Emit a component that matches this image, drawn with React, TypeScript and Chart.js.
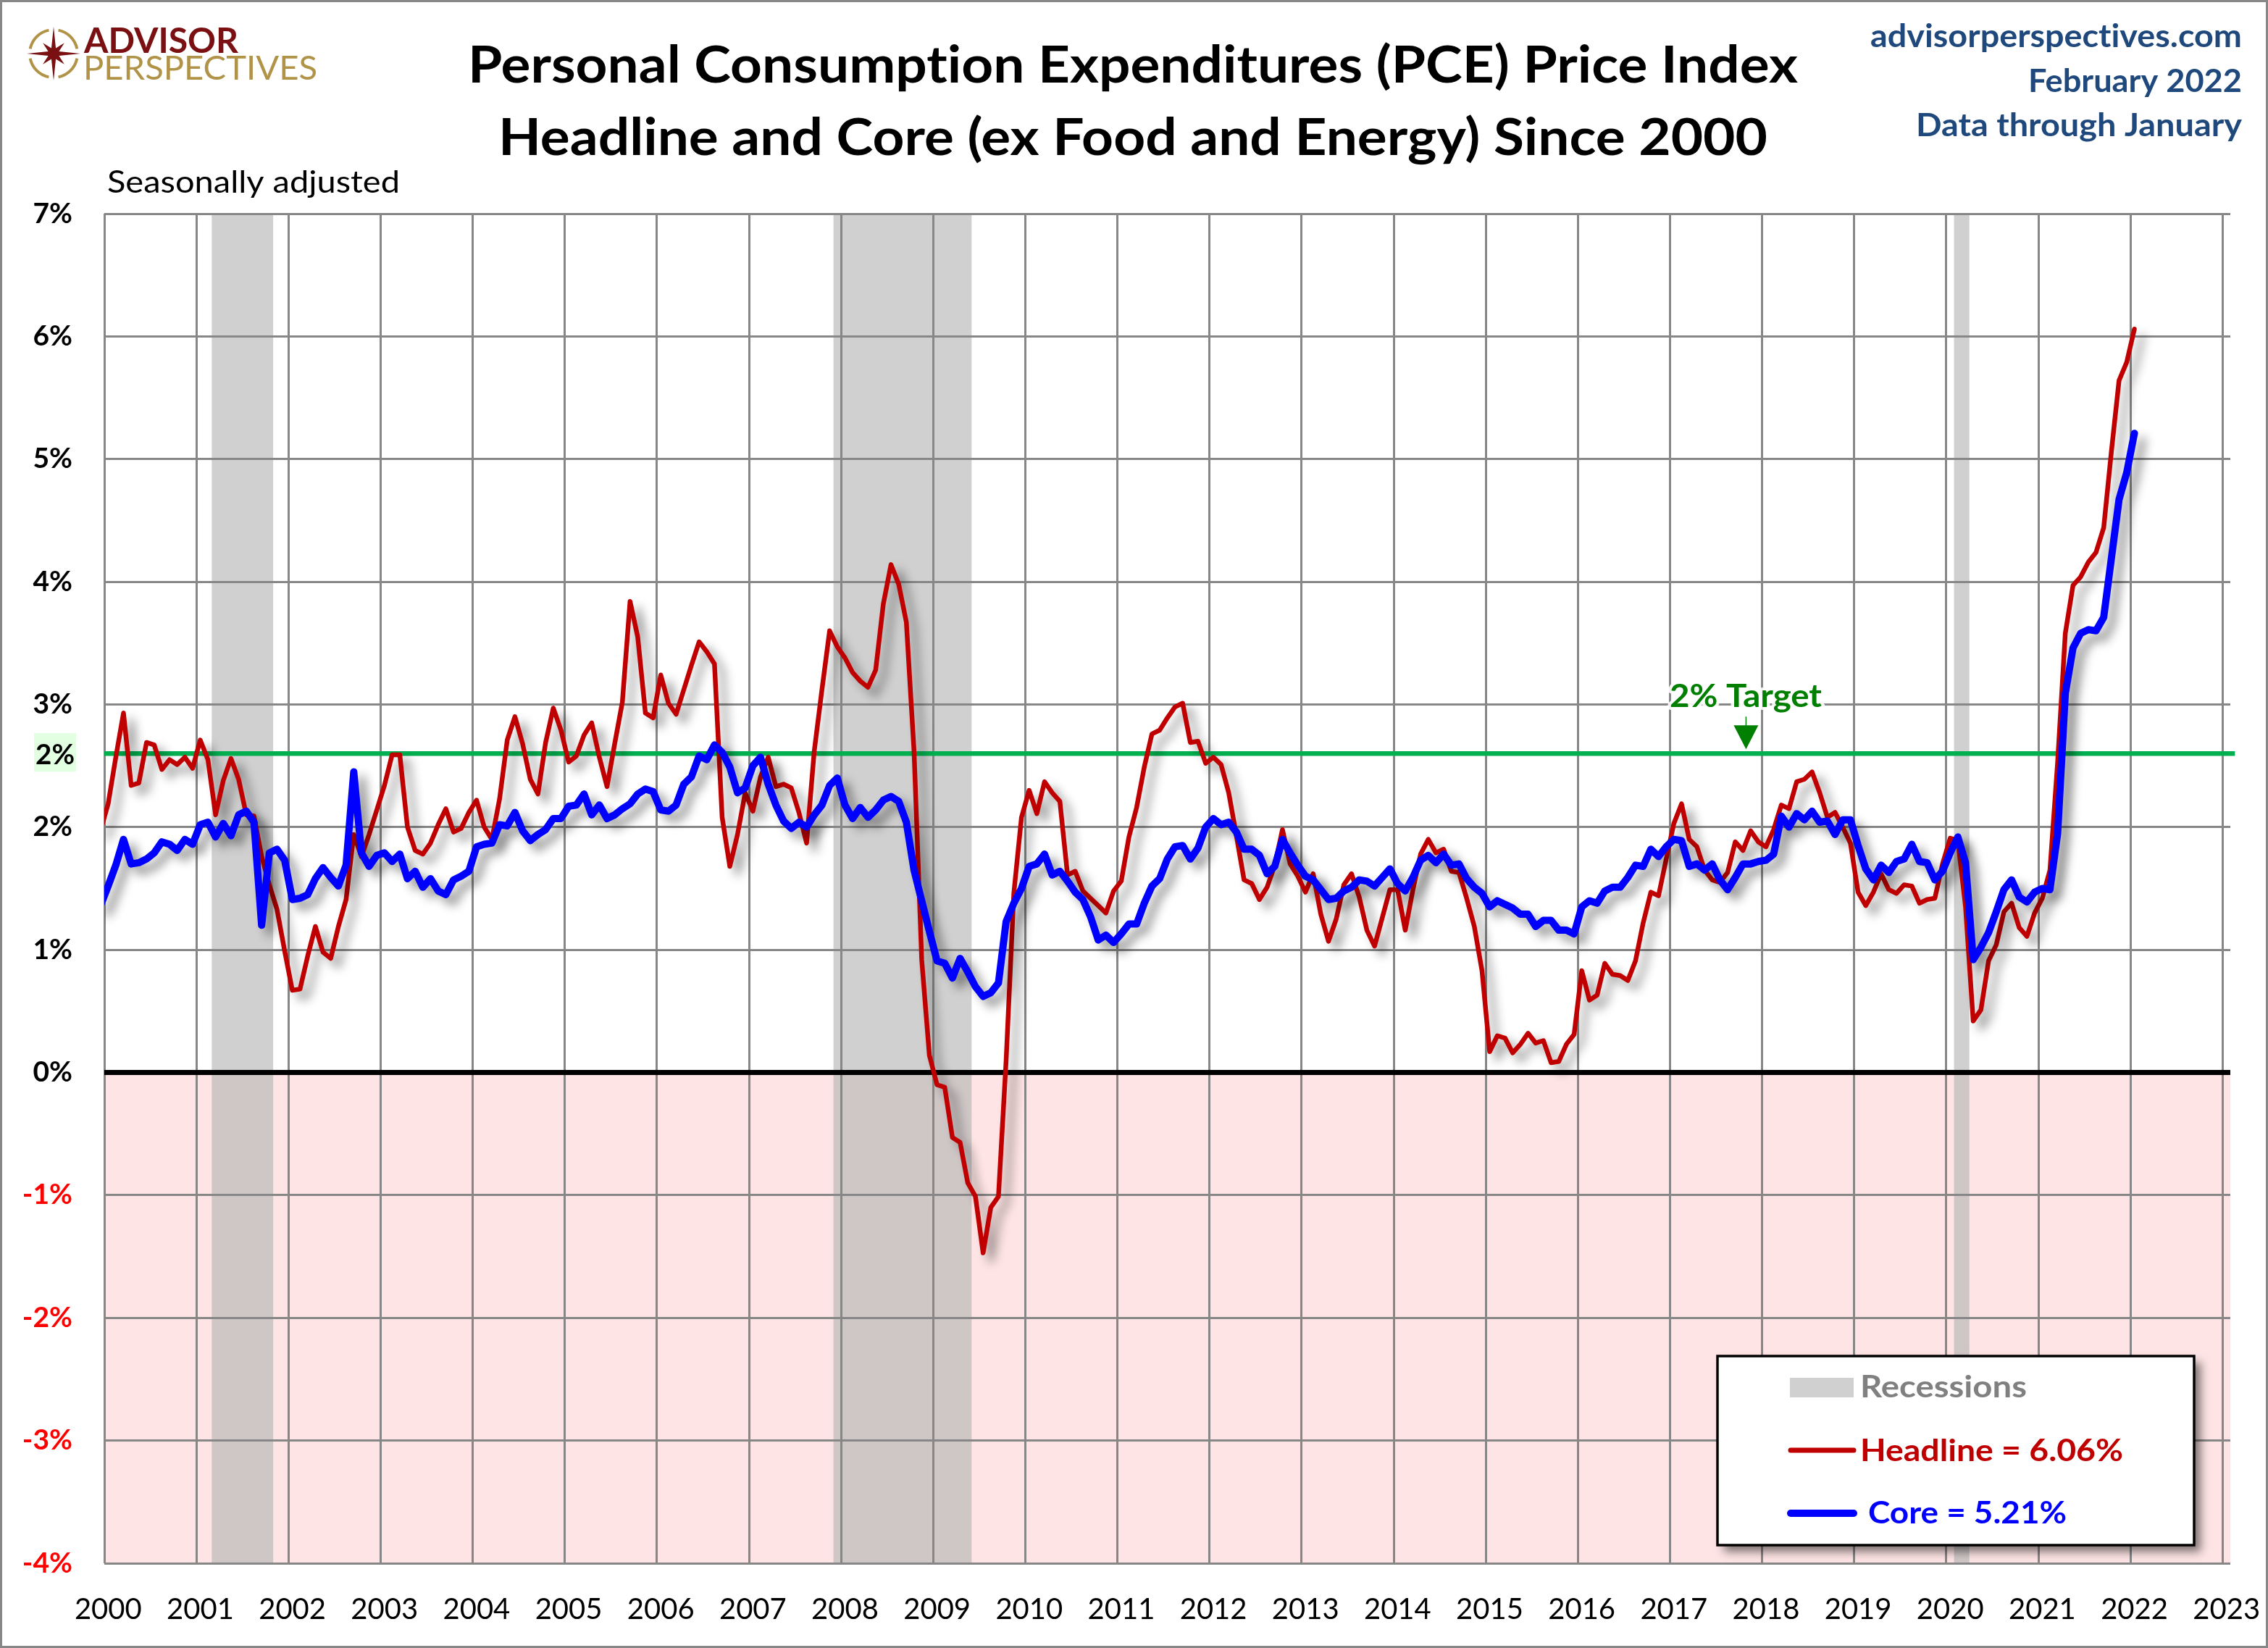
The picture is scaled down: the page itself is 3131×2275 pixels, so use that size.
import React, { useEffect, useRef } from "react";
import { Chart, registerables } from "chart.js";

Chart.register(...registerables);

const FONT = "Lato";

const yearLabels = [
  "2000", "2001", "2002", "2003", "2004", "2005", "2006", "2007", "2008", "2009", "2010", "2011",
  "2012", "2013", "2014", "2015", "2016", "2017", "2018", "2019", "2020", "2021", "2022", "2023",
];

// months since Jan 2000, first entry of each series is Dec 1999 (clipped by the axis)
const headline = [
  1.97,
  2.19, 2.57, 2.93, 2.34, 2.36, 2.69, 2.67, 2.47, 2.55, 2.51, 2.57, 2.48,
  2.71, 2.55, 2.10, 2.38, 2.56, 2.39, 2.10, 2.09, 1.76, 1.53, 1.33, 0.99,
  0.67, 0.68, 0.95, 1.19, 0.98, 0.93, 1.19, 1.41, 1.94, 1.76, 1.94, 2.14,
  2.34, 2.59, 2.59, 2.0, 1.81, 1.78, 1.87, 2.02, 2.15, 1.96, 1.99, 2.12,
  2.22, 2.0, 1.90, 2.23, 2.71, 2.90, 2.68, 2.39, 2.27, 2.69, 2.97, 2.79,
  2.53, 2.58, 2.75, 2.85, 2.57, 2.33, 2.68, 3.02, 3.84, 3.55, 2.93, 2.89,
  3.24, 3.01, 2.92, 3.12, 3.32, 3.51, 3.43, 3.33, 2.08, 1.68, 1.94, 2.28,
  2.13, 2.41, 2.57, 2.33, 2.35, 2.32, 2.12, 1.87, 2.62, 3.12, 3.60, 3.47,
  3.38, 3.26, 3.19, 3.14, 3.28, 3.82, 4.14, 3.98, 3.67, 2.62, 0.92, 0.14,
  -0.10, -0.12, -0.53, -0.57, -0.90, -1.01, -1.47, -1.10, -1.01, 0.10, 1.46, 2.08,
  2.30, 2.11, 2.37, 2.28, 2.21, 1.61, 1.64, 1.48, 1.42, 1.36, 1.30, 1.48,
  1.56, 1.92, 2.16, 2.49, 2.76, 2.79, 2.89, 2.98, 3.01, 2.69, 2.70, 2.52,
  2.57, 2.51, 2.28, 1.93, 1.57, 1.54, 1.41, 1.51, 1.69, 1.98, 1.70, 1.60,
  1.47, 1.62, 1.29, 1.07, 1.25, 1.53, 1.62, 1.43, 1.16, 1.03, 1.26, 1.49,
  1.49, 1.16, 1.49, 1.78, 1.90, 1.79, 1.82, 1.64, 1.63, 1.42, 1.19, 0.83,
  0.17, 0.30, 0.28, 0.16, 0.23, 0.32, 0.24, 0.26, 0.08, 0.09, 0.23, 0.31,
  0.83, 0.59, 0.63, 0.89, 0.80, 0.79, 0.75, 0.91, 1.22, 1.47, 1.44, 1.74,
  2.03, 2.19, 1.90, 1.84, 1.65, 1.57, 1.55, 1.63, 1.88, 1.81, 1.97, 1.88,
  1.84, 1.98, 2.18, 2.15, 2.37, 2.39, 2.45, 2.28, 2.08, 2.12, 2.0, 1.87,
  1.47, 1.36, 1.47, 1.62, 1.49, 1.46, 1.53, 1.52, 1.38, 1.41, 1.42, 1.70,
  1.91, 1.89, 1.35, 0.42, 0.51, 0.91, 1.04, 1.31, 1.38, 1.18, 1.11, 1.30,
  1.42, 1.65, 2.53, 3.58, 3.97, 4.04, 4.16, 4.24, 4.44, 5.06, 5.64, 5.79,
  6.06,
];

const core = [
  1.36,
  1.52, 1.69, 1.90, 1.70, 1.71, 1.74, 1.79, 1.88, 1.86, 1.81, 1.90, 1.86,
  2.02, 2.04, 1.92, 2.03, 1.93, 2.10, 2.13, 2.04, 1.20, 1.79, 1.82, 1.73,
  1.41, 1.42, 1.45, 1.58, 1.67, 1.59, 1.52, 1.69, 2.45, 1.79, 1.68, 1.77,
  1.79, 1.72, 1.78, 1.58, 1.64, 1.51, 1.58, 1.48, 1.45, 1.57, 1.60, 1.64,
  1.84, 1.86, 1.87, 2.02, 2.01, 2.12, 1.97, 1.89, 1.94, 1.98, 2.07, 2.07,
  2.17, 2.18, 2.27, 2.10, 2.18, 2.07, 2.10, 2.15, 2.19, 2.27, 2.31, 2.29,
  2.14, 2.13, 2.18, 2.35, 2.41, 2.58, 2.55, 2.67, 2.61, 2.49, 2.28, 2.32,
  2.50, 2.57, 2.35, 2.18, 2.05, 1.99, 2.04, 2.0, 2.10, 2.18, 2.34, 2.40,
  2.18, 2.07, 2.16, 2.08, 2.14, 2.22, 2.25, 2.21, 2.04, 1.65, 1.40, 1.15,
  0.91, 0.89, 0.77, 0.93, 0.82, 0.70, 0.62, 0.65, 0.73, 1.23, 1.38, 1.50,
  1.68, 1.70, 1.78, 1.61, 1.64, 1.56, 1.47, 1.41, 1.27, 1.08, 1.12, 1.06,
  1.13, 1.21, 1.21, 1.38, 1.52, 1.58, 1.74, 1.84, 1.85, 1.74, 1.83, 2.0,
  2.07, 2.02, 2.04, 1.96, 1.82, 1.82, 1.77, 1.62, 1.68, 1.90, 1.79, 1.69,
  1.60, 1.57, 1.49, 1.41, 1.42, 1.48, 1.51, 1.57, 1.56, 1.52, 1.59, 1.66,
  1.54, 1.48, 1.59, 1.73, 1.77, 1.71, 1.78, 1.69, 1.70, 1.58, 1.51, 1.46,
  1.35, 1.40, 1.37, 1.34, 1.29, 1.29, 1.19, 1.24, 1.24, 1.16, 1.16, 1.13,
  1.35, 1.40, 1.38, 1.48, 1.51, 1.51, 1.59, 1.69, 1.68, 1.82, 1.76, 1.84,
  1.90, 1.89, 1.68, 1.70, 1.65, 1.70, 1.57, 1.49, 1.59, 1.70, 1.70, 1.72,
  1.73, 1.78, 2.09, 2.00, 2.11, 2.06, 2.13, 2.04, 2.05, 1.94, 2.06, 2.06,
  1.85, 1.66, 1.57, 1.69, 1.63, 1.72, 1.74, 1.86, 1.72, 1.71, 1.57, 1.64,
  1.79, 1.92, 1.71, 0.92, 1.02, 1.14, 1.31, 1.49, 1.57, 1.43, 1.39, 1.47,
  1.50, 1.49, 1.95, 3.09, 3.46, 3.58, 3.61, 3.60, 3.71, 4.19, 4.67, 4.89,
  5.21,
];

// recession bands, in months since Jan 2000
const recessionStarts = [14, 95, 241];
const recessionEnds = [22, 113, 243];

// the green line sits at 2.6 on the value axis in the source
const targetLevel = 2.6;
const targetArrowMonth = 213.9;
const axisEndMonth = 277;

const titleLines = [
  "Personal Consumption Expenditures (PCE) Price Index",
  "Headline and Core (ex Food and Energy) Since 2000",
];
const sourceLines = ["advisorperspectives.com", "February 2022", "Data through January"];

// squeeze a text into the x range it has in the source
function fitText(
  ctx: CanvasRenderingContext2D,
  text: string,
  x0: number,
  x1: number,
  baseline: number,
  font: string,
  color: string,
  halo = 0
) {
  ctx.save();
  ctx.font = font;
  ctx.textAlign = "left";
  ctx.textBaseline = "alphabetic";
  (ctx as any).textRendering = "optimizeSpeed"; // no "ti" ligature from Lato
  const sx = (x1 - x0) / ctx.measureText(text).width;
  ctx.translate(x0, baseline);
  ctx.scale(sx, 1);
  if (halo) {
    ctx.strokeStyle = "rgba(255,255,255,0.9)";
    ctx.lineWidth = halo;
    ctx.lineJoin = "round";
    ctx.strokeText(text, 0, 0);
  }
  ctx.fillStyle = color;
  ctx.fillText(text, 0, 0);
  ctx.restore();
}

function drawLogo(ctx: CanvasRenderingContext2D) {
  const cx = 74;
  const cy = 74;
  ctx.save();
  ctx.strokeStyle = "#b09347";
  ctx.lineWidth = 4;
  for (let q = 0; q < 4; q++) {
    const a = (q * Math.PI) / 2;
    ctx.beginPath();
    ctx.arc(cx, cy, 33, a + 0.2, a + Math.PI / 2 - 0.2);
    ctx.stroke();
  }
  ctx.fillStyle = "#7a1012";
  ctx.beginPath();
  for (let k = 0; k < 16; k++) {
    const r = k % 4 === 0 ? 37 : k % 4 === 2 ? 21 : 8;
    const a = (k * Math.PI) / 8 - Math.PI / 2;
    const px = cx + r * Math.cos(a);
    const py = cy + r * Math.sin(a);
    if (k === 0) ctx.moveTo(px, py);
    else ctx.lineTo(px, py);
  }
  ctx.closePath();
  ctx.fill();
  ctx.restore();
  fitText(ctx, "ADVISOR", 116, 329, 73, `bold 48px ${FONT}`, "#7a1012");
  fitText(ctx, "PERSPECTIVES", 115, 438, 110, `46px ${FONT}`, "#b09347");
}

function drawLegend(ctx: CanvasRenderingContext2D) {
  ctx.save();
  ctx.shadowColor = "rgba(0,0,0,0.5)";
  ctx.shadowBlur = 12;
  ctx.shadowOffsetX = 9;
  ctx.shadowOffsetY = 9;
  ctx.fillStyle = "#ffffff";
  ctx.fillRect(2371, 1872, 658, 261);
  ctx.restore();
  ctx.strokeStyle = "#000000";
  ctx.lineWidth = 3.5;
  ctx.strokeRect(2371, 1872, 658, 261);

  ctx.fillStyle = "#d0d0d0";
  ctx.fillRect(2471, 1902, 88, 27);
  fitText(ctx, "Recessions", 2568, 2798, 1929, `bold 42px ${FONT}`, "#808080");

  ctx.lineCap = "round";
  ctx.strokeStyle = "#c00000";
  ctx.lineWidth = 7;
  ctx.beginPath();
  ctx.moveTo(2472, 2002);
  ctx.lineTo(2559, 2002);
  ctx.stroke();
  fitText(ctx, "Headline = 6.06%", 2568, 2931, 2017, `bold 42px ${FONT}`, "#c00000");

  ctx.strokeStyle = "#0000ff";
  ctx.lineWidth = 10;
  ctx.beginPath();
  ctx.moveTo(2472, 2089);
  ctx.lineTo(2559, 2089);
  ctx.stroke();
  fitText(ctx, "Core = 5.21%", 2579, 2853, 2103, `bold 42px ${FONT}`, "#0000ff");
}

const backdropPlugin = {
  id: "backdrop",
  beforeDraw(chart: any) {
    const { ctx, chartArea, scales } = chart;
    const zero = scales.y.getPixelForValue(0);
    ctx.save();
    ctx.fillStyle = "#ffffff";
    ctx.fillRect(0, 0, chart.width, chart.height);
    ctx.fillStyle = "#fee4e4";
    ctx.fillRect(chartArea.left, zero, chartArea.right - chartArea.left, chartArea.bottom - zero);
    recessionStarts.forEach((start, i) => {
      const x0 = scales.x.getPixelForValue(start);
      const x1 = scales.x.getPixelForValue(recessionEnds[i]);
      ctx.fillStyle = "#d0d0d0";
      ctx.fillRect(x0, chartArea.top, x1 - x0, zero - chartArea.top);
      ctx.fillStyle = "#cfc6c6";
      ctx.fillRect(x0, zero, x1 - x0, chartArea.bottom - zero);
    });
    ctx.restore();
  },
};

// soft drop shadow under the two series
const lineShadowPlugin = {
  id: "lineShadow",
  beforeDatasetDraw(chart: any, args: any) {
    if (args.index > 1) return;
    const { ctx } = chart;
    ctx.save();
    ctx.shadowColor = "rgba(0,0,0,0.42)";
    ctx.shadowBlur = 14;
    ctx.shadowOffsetX = 11;
    ctx.shadowOffsetY = 10;
  },
  afterDatasetDraw(chart: any, args: any) {
    if (args.index > 1) return;
    chart.ctx.restore();
  },
};

const annotationPlugin = {
  id: "annotations",
  afterDraw(chart: any) {
    const { ctx, scales } = chart;
    const targetY = scales.y.getPixelForValue(targetLevel);
    const arrowX = scales.x.getPixelForValue(targetArrowMonth);

    ctx.save();
    ctx.strokeStyle = "#878787";
    ctx.lineWidth = 3;
    ctx.strokeRect(1.5, 1.5, chart.width - 3, chart.height - 3);

    drawLogo(ctx);

    fitText(ctx, titleLines[0], 646, 2482, 114, `bold 70px ${FONT}`, "#000000");
    fitText(ctx, titleLines[1], 688, 2440, 214, `bold 70px ${FONT}`, "#000000");

    fitText(ctx, sourceLines[0], 2582, 3095, 65, `bold 43px ${FONT}`, "#1f497d");
    fitText(ctx, sourceLines[1], 2800, 3095, 127, `bold 43px ${FONT}`, "#1f497d");
    fitText(ctx, sourceLines[2], 2645, 3095, 188, `bold 43px ${FONT}`, "#1f497d");

    fitText(ctx, "Seasonally adjusted", 148, 552, 266, `43px ${FONT}`, "#000000");

    // green 2% tag left of the axis
    ctx.fillStyle = "#e2ffe2";
    ctx.fillRect(47, targetY - 28, 58, 53);
    fitText(ctx, "2%", 49, 103, targetY + 15, `bold 39px ${FONT}`, "#000000");

    fitText(ctx, "2% Target", 2305, 2515, targetY - 64, `bold 43px ${FONT}`, "#007f00", 8);
    ctx.strokeStyle = "#007f00";
    ctx.lineWidth = 1.5;
    ctx.beginPath();
    ctx.moveTo(arrowX, targetY - 51);
    ctx.lineTo(arrowX, targetY - 38);
    ctx.stroke();
    ctx.fillStyle = "#007f00";
    ctx.beginPath();
    ctx.moveTo(arrowX - 17, targetY - 39);
    ctx.lineTo(arrowX + 17, targetY - 39);
    ctx.lineTo(arrowX, targetY - 6);
    ctx.closePath();
    ctx.fill();

    drawLegend(ctx);
    ctx.restore();
  },
};

export default function App() {
  const canvasRef = useRef<HTMLCanvasElement | null>(null);

  useEffect(() => {
    if (!canvasRef.current) return;
    const chart = new Chart(canvasRef.current, {
      type: "line",
      data: {
        datasets: [
          {
            label: "Core",
            data: core.map((v, i) => ({ x: i - 0.5, y: v })),
            borderColor: "#0000ff",
            borderWidth: 10,
            order: 1,
          },
          {
            label: "Headline",
            data: headline.map((v, i) => ({ x: i - 0.5, y: v })),
            borderColor: "#c00000",
            borderWidth: 6.5,
            order: 2,
          },
          {
            label: "2% Target",
            data: [
              { x: 0, y: targetLevel },
              { x: axisEndMonth + 0.6, y: targetLevel },
            ],
            borderColor: "#00b050",
            borderWidth: 6.5,
            borderCapStyle: "butt",
            clip: false,
            order: 3,
          },
          {
            label: "Zero",
            data: [
              { x: 0, y: 0 },
              { x: axisEndMonth, y: 0 },
            ],
            borderColor: "#000000",
            borderWidth: 7,
            borderCapStyle: "butt",
            order: 4,
          },
        ],
      },
      options: {
        responsive: false,
        animation: false,
        devicePixelRatio: 1,
        layout: {
          autoPadding: false,
          padding: { top: 295, right: 52, bottom: 0, left: 0 },
        },
        elements: {
          point: { radius: 0 },
          line: { tension: 0, borderJoinStyle: "round", borderCapStyle: "round" },
        },
        plugins: {
          legend: { display: false },
          title: { display: false },
          tooltip: { enabled: false },
        },
        scales: {
          x: {
            type: "linear",
            min: 0,
            max: axisEndMonth,
            afterFit: (scale: any) => {
              scale.height = 117;
              // the 2023 label must not eat into the axis length
              scale.paddingLeft = 0;
              scale.paddingRight = 0;
            },
            afterBuildTicks: (scale: any) => {
              scale.ticks = yearLabels.map((_, k) => ({ value: k * 12 }));
            },
            grid: { color: "#878787", lineWidth: 3, drawTicks: false },
            border: { display: false },
            ticks: {
              autoSkip: false,
              maxRotation: 0,
              padding: 40,
              labelOffset: 5.3,
              color: "#000000",
              font: { family: FONT, size: 40 },
              callback: (value: any) => yearLabels[Math.round(Number(value) / 12)],
            },
          },
          y: {
            type: "linear",
            min: -4,
            max: 7,
            afterFit: (scale: any) => {
              scale.width = 144;
            },
            grid: { color: "#878787", lineWidth: 3, drawTicks: false },
            border: { display: false },
            ticks: {
              stepSize: 1,
              padding: 44,
              color: (c: any) => (c.tick.value < 0 ? "#ff0000" : "#000000"),
              font: { family: FONT, size: 39, weight: "bold" },
              callback: (value: any) => `${value}%`,
            },
          },
        },
      },
      plugins: [backdropPlugin, lineShadowPlugin, annotationPlugin],
    } as any);
    return () => chart.destroy();
  }, []);

  return (
    <div style={{ position: "absolute", left: 0, top: 0 }}>
      <canvas ref={canvasRef} width={3131} height={2275} style={{ display: "block" }} />
    </div>
  );
}
